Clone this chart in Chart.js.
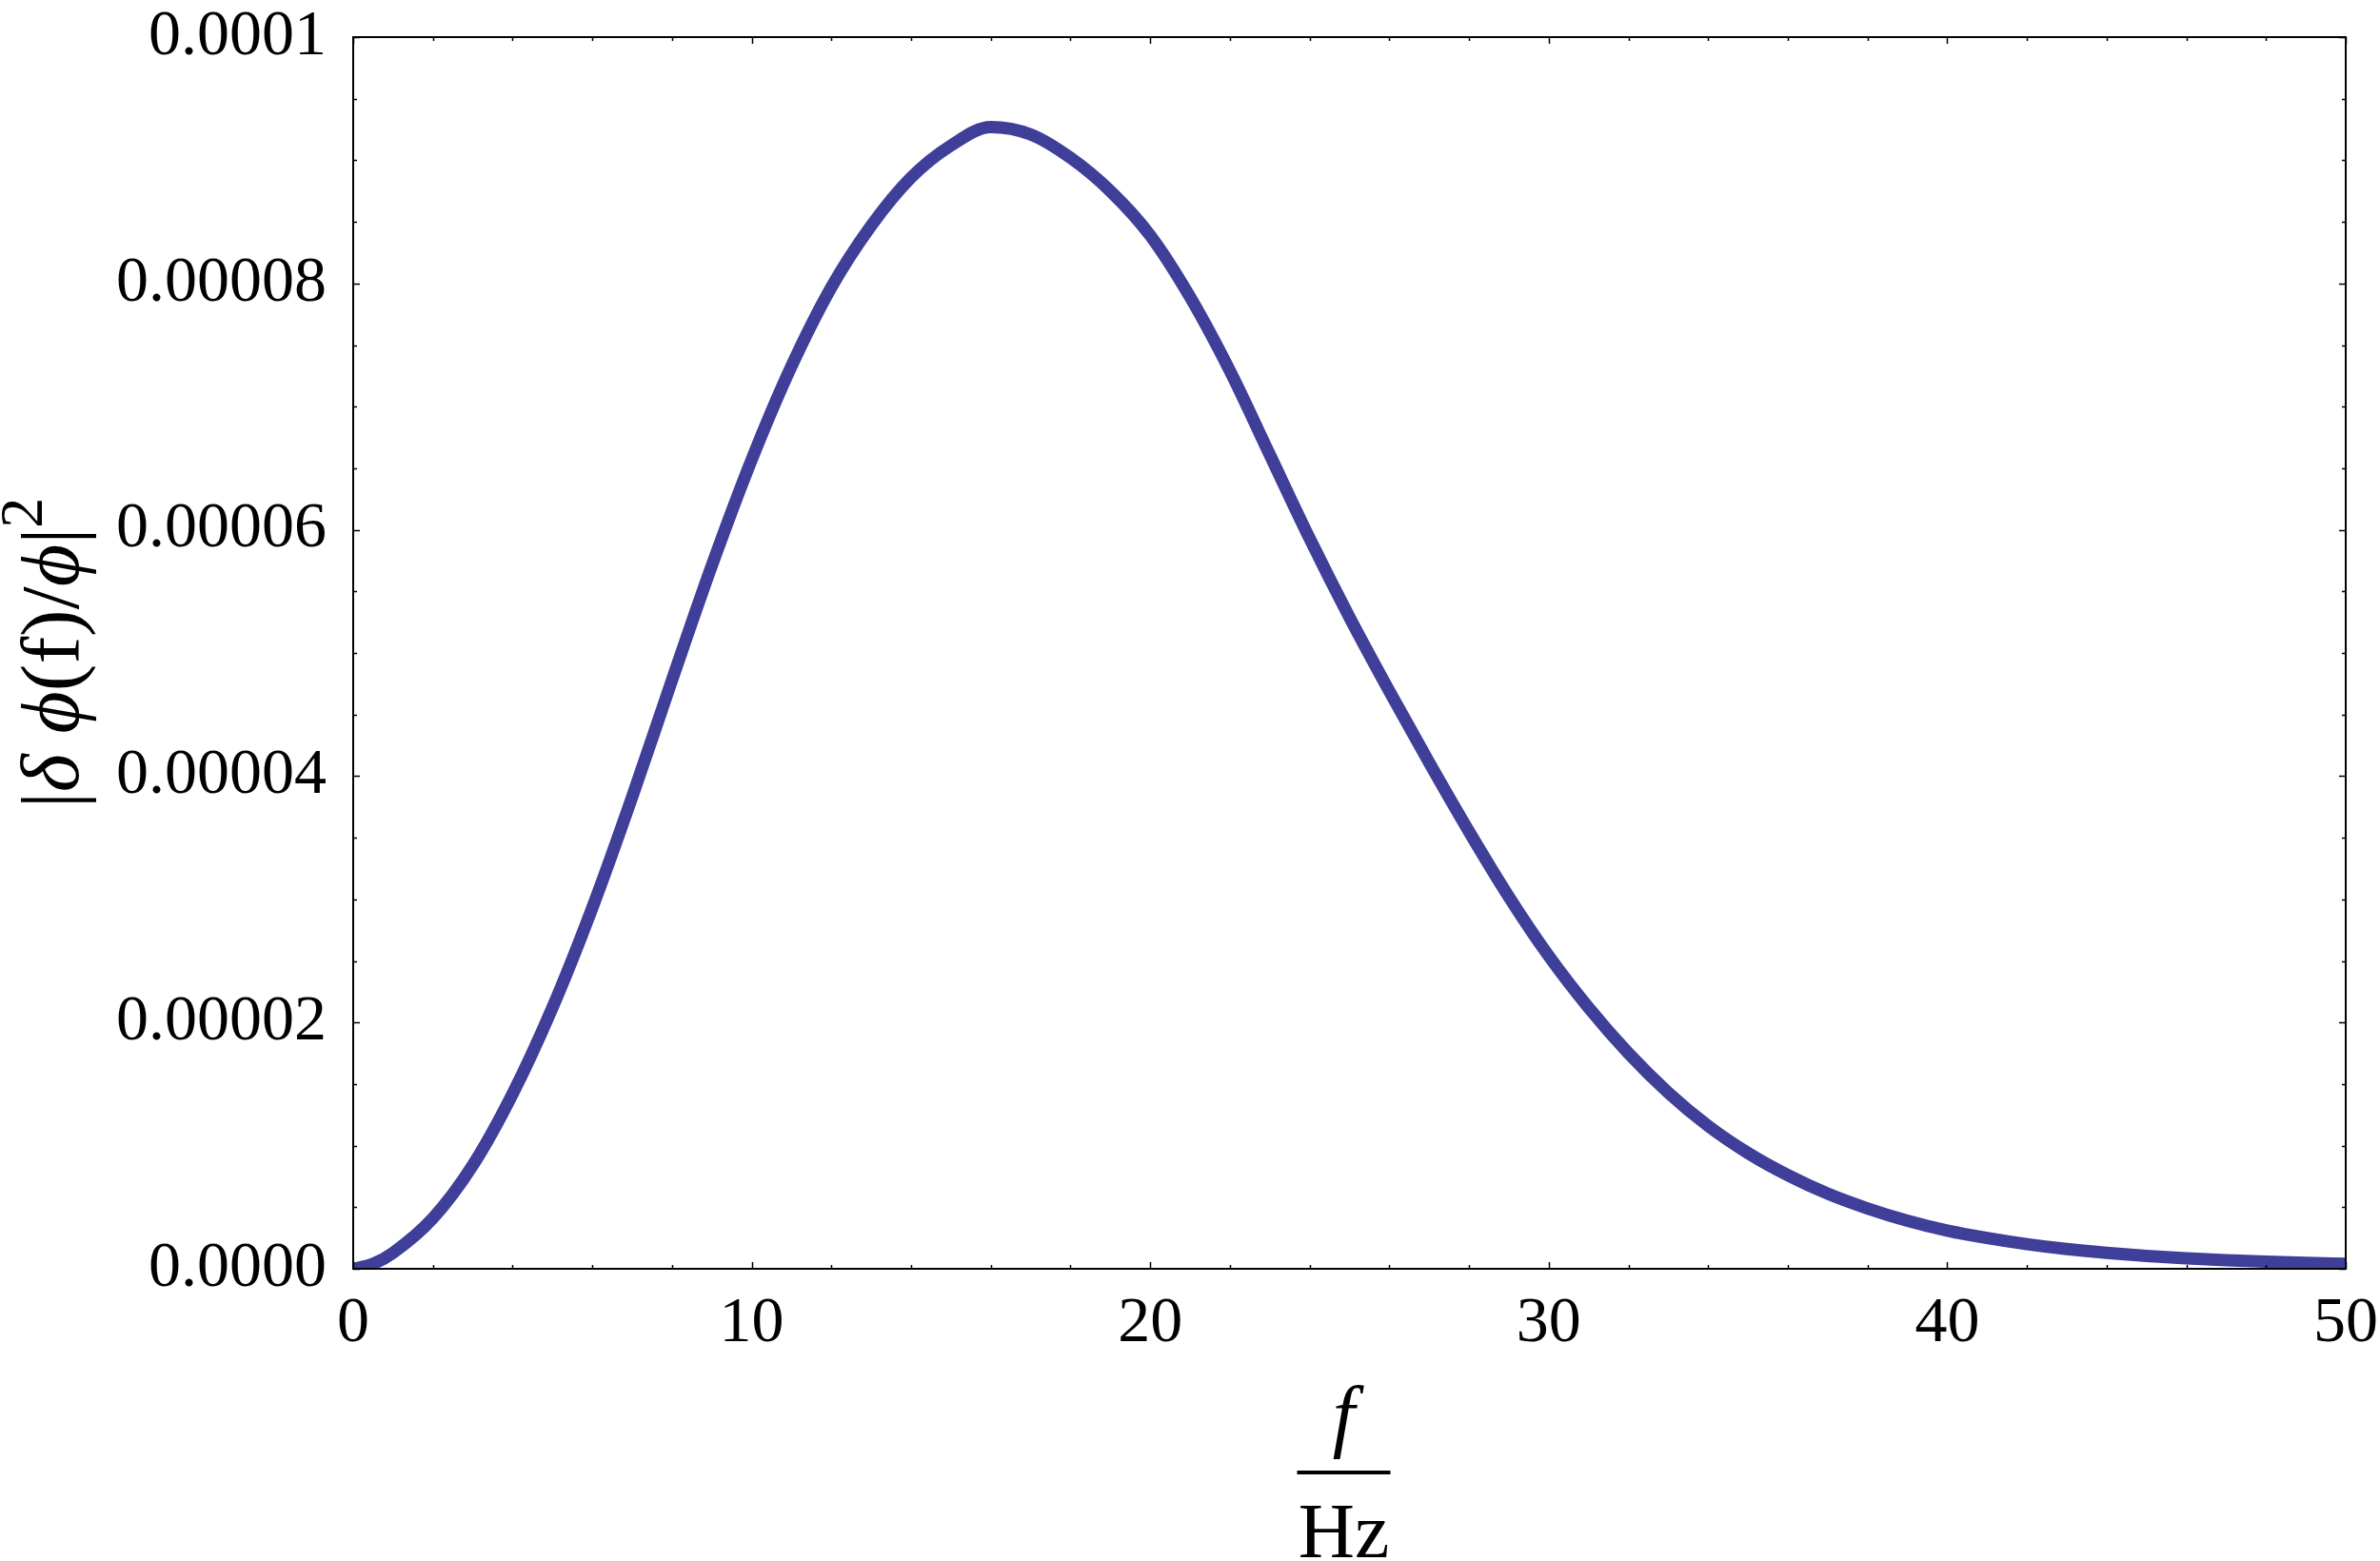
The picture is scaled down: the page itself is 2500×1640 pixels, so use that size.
<!DOCTYPE html>
<html lang="en">
<head>
<meta charset="UTF-8">
<title>Relative phase noise spectrum</title>
<script src="https://cdn.jsdelivr.net/npm/chart.js@4"></script>
<style>
  html, body { margin: 0; padding: 0; background: #fff; }
</style>
</head>
<body>
<canvas id="noiseChart" width="2500" height="1640"></canvas>
<script>
// values, |δϕ(f)/ϕ|² against f in Hz
const freqHz = [0, 0.5, 1, 2, 3, 4, 5, 6, 7, 8, 9, 10, 11, 12, 13, 14, 15, 16, 17, 18, 19, 20,
  21, 22, 23, 24, 25, 26, 27, 28, 29, 30, 31, 32, 33, 34, 35, 36, 37, 38, 39, 40,
  41, 42, 43, 44, 45, 46, 47, 48, 49, 50];
const relNoise = [0, 0.04e-5, 0.13e-5, 0.41e-5, 0.84e-5, 1.42e-5, 2.12e-5, 2.93e-5, 3.83e-5,
  4.78e-5, 5.71e-5, 6.57e-5, 7.33e-5, 7.97e-5, 8.47e-5, 8.86e-5, 9.12e-5, 9.27e-5, 9.21e-5,
  9.02e-5, 8.75e-5, 8.39e-5, 7.89e-5, 7.29e-5, 6.61e-5, 5.93e-5, 5.29e-5, 4.69e-5, 4.11e-5,
  3.55e-5, 3.02e-5, 2.54e-5, 2.12e-5, 1.75e-5, 1.43e-5, 1.16e-5, 0.94e-5, 0.76e-5, 0.61e-5,
  0.49e-5, 0.39e-5, 0.31e-5, 0.25e-5, 0.20e-5, 0.16e-5, 0.13e-5, 0.105e-5, 0.085e-5, 0.07e-5,
  0.058e-5, 0.048e-5, 0.04e-5];
const xTickLabels = ['0', '10', '20', '30', '40', '50'];
const yTickLabels = ['0.0000', '0.00002', '0.00004', '0.00006', '0.00008', '0.0001'];

const serif = "'Liberation Serif', 'Times New Roman', serif";
const lineColor = 'rgb(63, 63, 154)';

// box frame with inward ticks on all four sides (Mathematica style)
const frameTicks = {
  id: 'frameTicks',
  afterDatasetsDraw(chart) {
    const { ctx, chartArea: a, scales: { x, y } } = chart;
    ctx.save();
    ctx.strokeStyle = '#000';
    ctx.lineWidth = 1.5;
    ctx.beginPath();
    for (let v = 0; v <= 50; v += 2) {
      const px = Math.round(x.getPixelForValue(v)) + 0.5;
      const len = v % 10 === 0 ? 7 : 4;
      ctx.moveTo(px, a.bottom); ctx.lineTo(px, a.bottom - len);
      ctx.moveTo(px, a.top); ctx.lineTo(px, a.top + len);
    }
    for (let i = 0; i <= 20; i++) {
      const py = Math.round(y.getPixelForValue(i * 0.000005)) + 0.5;
      const len = i % 4 === 0 ? 7 : 4;
      ctx.moveTo(a.left, py); ctx.lineTo(a.left + len, py);
      ctx.moveTo(a.right, py); ctx.lineTo(a.right - len, py);
    }
    ctx.stroke();
    ctx.lineWidth = 2;
    ctx.strokeRect(a.left, a.top, a.right - a.left, a.bottom - a.top);
    ctx.restore();
  }
};

// axis titles: f / Hz as a fraction, and |δ ϕ(f)/ϕ|² rotated
const axisTitles = {
  id: 'axisTitles',
  afterDraw(chart) {
    const { ctx, chartArea: a } = chart;
    ctx.save();
    ctx.fillStyle = '#000';
    ctx.textAlign = 'center';
    ctx.textBaseline = 'alphabetic';
    const cx = (a.left + a.right) / 2 - 6;
    ctx.font = 'italic 84px ' + serif;
    ctx.fillText('f', cx, 1515);
    ctx.fillRect(cx - 49, 1545, 98, 4);
    ctx.font = '82px ' + serif;
    ctx.fillText('Hz', cx, 1636);

    const parts = [
      { t: '|' }, { t: 'δ', it: true }, { t: ' ' }, { t: 'ϕ', it: true },
      { t: '(f)/' }, { t: 'ϕ', it: true }, { t: '|' }, { t: '2', sup: true }
    ];
    const fontFor = p => (p.it ? 'italic ' : '') + (p.sup ? '64px ' : '86px ') + serif;
    let total = 0;
    parts.forEach(p => { ctx.font = fontFor(p); p.w = ctx.measureText(p.t).width; total += p.w; });
    ctx.translate(82, (a.top + a.bottom) / 2);
    ctx.rotate(-Math.PI / 2);
    ctx.textAlign = 'left';
    let pos = -total / 2;
    parts.forEach(p => {
      ctx.font = fontFor(p);
      ctx.fillText(p.t, pos, p.sup ? -38 : 0);
      pos += p.w;
    });
    ctx.restore();
  }
};

const ctx = document.getElementById('noiseChart').getContext('2d');
const noiseChart = new Chart(ctx, {
  type: 'line',
  data: {
    datasets: [{
      data: freqHz.map((f, i) => ({ x: f, y: relNoise[i] })),
      borderColor: lineColor,
      borderWidth: 13,
      pointRadius: 0,
      fill: false,
      cubicInterpolationMode: 'monotone',
      clip: 0
    }]
  },
  options: {
    responsive: false,
    animation: false,
    layout: { autoPadding: false, padding: { left: 0, top: 39, right: 36, bottom: 0 } },
    plugins: { legend: { display: false }, tooltip: { enabled: false } },
    scales: {
      x: {
        type: 'linear',
        min: 0,
        max: 50,
        afterFit: s => { s.height = 307; s.paddingLeft = 0; s.paddingRight = 0; },
        grid: { display: false, drawTicks: false },
        border: { display: false },
        ticks: {
          stepSize: 10,
          padding: 24,
          maxRotation: 0,
          autoSkip: false,
          color: '#000',
          font: { family: serif, size: 68, lineHeight: 1 },
          callback: (v, i) => xTickLabels[i]
        }
      },
      y: {
        min: 0,
        max: 0.0001,
        afterFit: s => { s.width = 371; s.paddingTop = 0; s.paddingBottom = 0; },
        grid: { display: false, drawTicks: false },
        border: { display: false },
        ticks: {
          stepSize: 0.00002,
          padding: 28,
          autoSkip: false,
          color: '#000',
          font: { family: serif, size: 68, lineHeight: 1 },
          callback: (v, i) => yTickLabels[i]
        }
      }
    }
  },
  plugins: [frameTicks, axisTitles]
});
</script>
</body>
</html>
